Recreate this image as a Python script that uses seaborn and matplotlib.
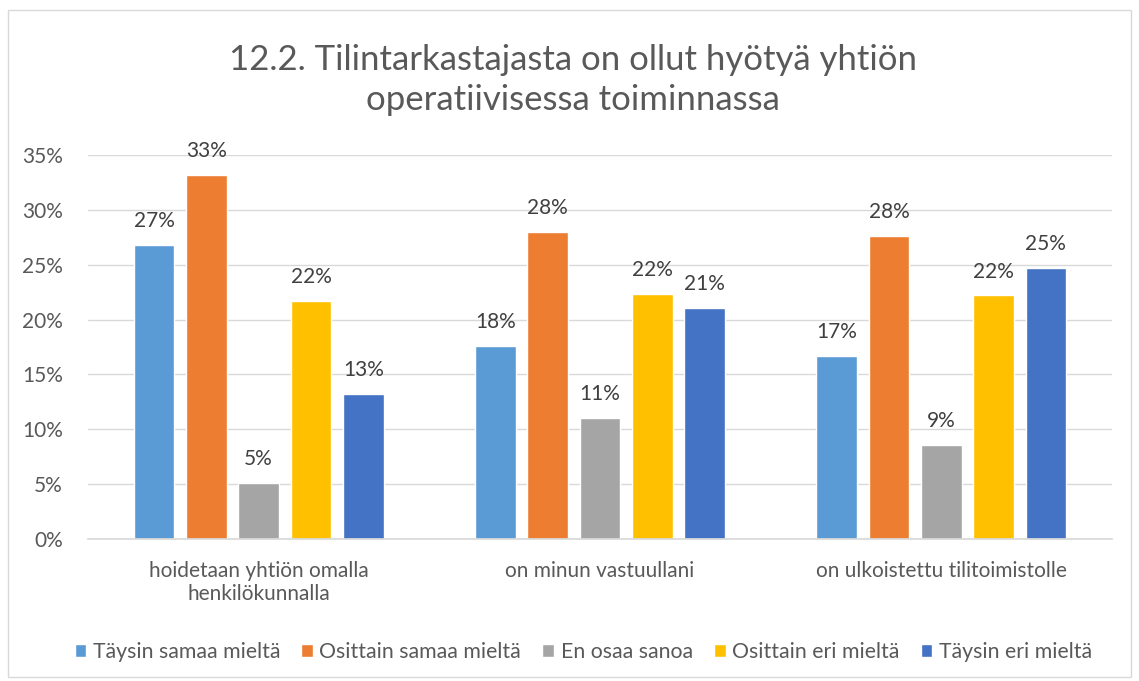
import pandas as pd
import numpy as np
import matplotlib.pyplot as plt
import matplotlib.patches as patches
import seaborn as sns

# arvot luettu kuvasta
categories = ['hoidetaan yhtiön omalla\nhenkilökunnalla', 'on minun vastuullani', 'on ulkoistettu tilitoimistolle']
answers = ['Täysin samaa mieltä', 'Osittain samaa mieltä', 'En osaa sanoa', 'Osittain eri mieltä', 'Täysin eri mieltä']
taysin_samaa = [0.268, 0.176, 0.167]
osittain_samaa = [0.332, 0.280, 0.276]
en_osaa = [0.051, 0.110, 0.086]
osittain_eri = [0.217, 0.223, 0.222]
taysin_eri = [0.132, 0.211, 0.247]
colors = ['#5B9BD5', '#ED7D31', '#A5A5A5', '#FFC000', '#4472C4']

rows = []
for ans, vals in zip(answers, [taysin_samaa, osittain_samaa, en_osaa, osittain_eri, taysin_eri]):
    for cat, v in zip(categories, vals):
        rows.append({'ryhma': cat, 'vastaus': ans, 'osuus': v})
df = pd.DataFrame(rows)

sns.set_theme(style='white')
plt.rcParams['font.family'] = ['Lato', 'DejaVu Sans']

fig = plt.figure(figsize=(11.39, 6.81), dpi=100)
ax = fig.add_axes([88/1139, 142/681, 1024/1139, 384/681])

sns.barplot(data=df, x='ryhma', y='osuus', hue='vastaus', order=categories,
            hue_order=answers, palette=colors, width=0.766, gap=0.22,
            saturation=1, ax=ax, legend=True, errorbar=None)

for c in ax.containers:
    ax.bar_label(c, fmt=lambda v: f'{v*100:.0f}%', padding=10, fontsize=15, color='#404040')

ax.set_ylim(0, 0.35)
ax.set_yticks(np.arange(0, 0.351, 0.05))
ax.set_yticklabels([f'{int(round(t*100))}%' for t in np.arange(0, 0.351, 0.05)])
ax.grid(axis='y', color='#D9D9D9', linewidth=1)
ax.set_axisbelow(True)
for s in ['top', 'right', 'left']:
    ax.spines[s].set_visible(False)
ax.spines['bottom'].set_color('#D9D9D9')
ax.tick_params(axis='y', length=0, pad=18, labelsize=15, labelcolor='#595959')
ax.tick_params(axis='x', length=0, pad=16, labelsize=15, labelcolor='#595959')
ax.set_xlabel('')
ax.set_ylabel('')

handles, labels = ax.get_legend_handles_labels()
ax.get_legend().remove()
fig.legend(handles, labels, loc='center', bbox_to_anchor=(0.512, 1 - 652/681), ncol=5,
           frameon=False, handlelength=0.55, handleheight=0.55, handletextpad=0.3,
           columnspacing=1.0, fontsize=15.3, labelcolor='#595959')

fig.text(0.503, 1 - 80/681, '12.2. Tilintarkastajasta on ollut hyötyä yhtiön\noperatiivisessa toiminnassa',
         ha='center', va='center', fontsize=25, color='#595959', linespacing=1.3)

fig.patches.append(patches.Rectangle((8/1139, 4/681), 1123/1139, 667/681, transform=fig.transFigure,
                                     fill=False, edgecolor='#D9D9D9', linewidth=1))

fig.savefig('out.png', dpi=100, facecolor='white')
